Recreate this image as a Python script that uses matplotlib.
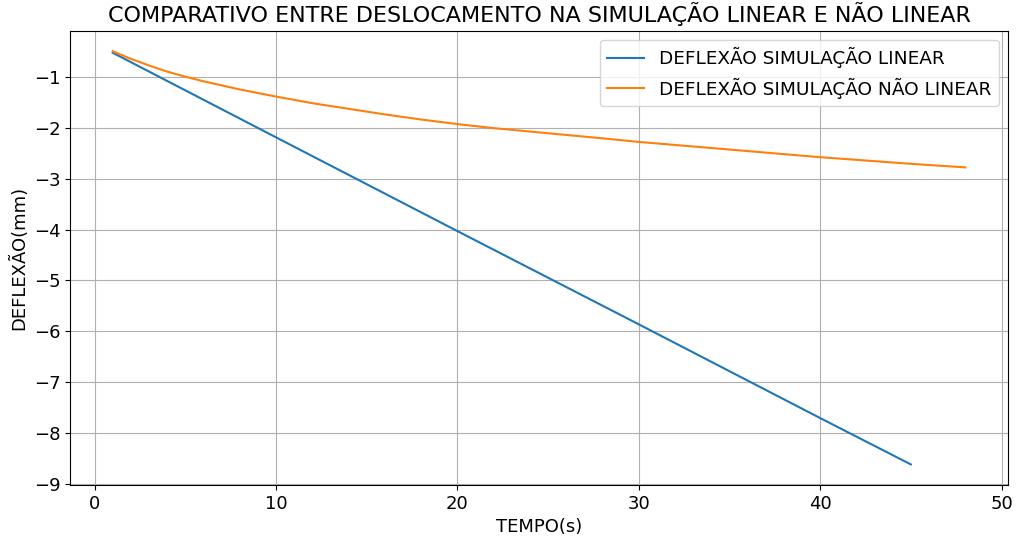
import matplotlib
matplotlib.use("Agg")
from matplotlib import pyplot as plt

# Valores
tempo_linear = [1, 10, 20, 30, 40, 45]
deflexao_linear = [-0.53, -2.19, -4.03, -5.86, -7.70, -8.61]

tempo_nao_linear = [1, 2, 3, 4, 5, 6, 7, 8, 9, 10, 12, 14, 16, 18, 20, 22, 25, 28, 30, 35, 40, 45, 48]
deflexao_nao_linear = [-0.50, -0.65, -0.78, -0.90, -1.00, -1.09, -1.17, -1.25, -1.32, -1.39,
                       -1.52, -1.63, -1.74, -1.84, -1.93, -2.01, -2.11, -2.21, -2.28, -2.43,
                       -2.58, -2.71, -2.78]

fig, ax = plt.subplots(figsize=(10.16, 5.36), dpi=100)
fig.subplots_adjust(left=0.069, right=0.992, top=0.943, bottom=0.095)

ax.plot(tempo_linear, deflexao_linear, label="DEFLEXÃO SIMULAÇÃO LINEAR")
ax.plot(tempo_nao_linear, deflexao_nao_linear, label="DEFLEXÃO SIMULAÇÃO NÃO LINEAR")

ax.set_title("COMPARATIVO ENTRE DESLOCAMENTO NA SIMULAÇÃO LINEAR E NÃO LINEAR", fontsize=16)
ax.set_xlabel("TEMPO(s)", fontsize=13)
ax.set_ylabel("DEFLEXÃO(mm)", fontsize=13)
ax.tick_params(labelsize=13)
ax.grid(True)
ax.legend(loc="upper right", fontsize=13.3)

fig.savefig("out.png")
